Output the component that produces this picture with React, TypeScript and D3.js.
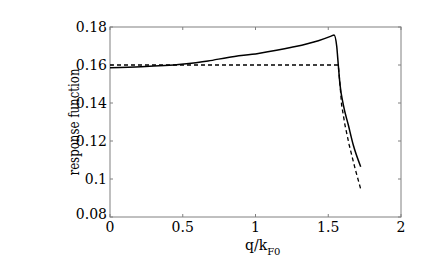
import * as React from 'react';
import * as d3 from 'd3';

const solidQ = [0, 0.215, 0.49, 0.674, 0.811, 1.019, 1.249, 1.432, 1.52, 1.54, 1.558, 1.569, 1.581, 1.604, 1.638, 1.672, 1.723];
const solidR = [0.1586, 0.1591, 0.1604, 0.1621, 0.164, 0.1661, 0.1693, 0.1728, 0.1752, 0.1758, 0.170, 0.16, 0.1495, 0.1389, 0.1284, 0.1179, 0.1065];
const dashQ = [0, 1.569, 1.581, 1.592, 1.615, 1.644, 1.684, 1.723];
const dashR = [0.16, 0.16, 0.1495, 0.1389, 0.1284, 0.1179, 0.1056, 0.0947];
const xTicks = [0, 0.5, 1, 1.5, 2];
const yTicks = [0.08, 0.1, 0.12, 0.14, 0.16, 0.18];

const W = 436;
const H = 267;
const m = { left: 110, top: 27, right: 401, bottom: 217 };

export default function App() {
  const x = d3.scaleLinear().domain([0, 2]).range([m.left, m.right]);
  const y = d3.scaleLinear().domain([0.08, 0.18]).range([m.bottom, m.top]);
  const mk = d3.line<[number, number]>().x(d => x(d[0])).y(d => y(d[1])).curve(d3.curveMonotoneX);
  const solid = mk(solidQ.map((q, i) => [q, solidR[i]] as [number, number]));
  const dashed = d3.line<[number, number]>().x(d => x(d[0])).y(d => y(d[1]))(dashQ.map((q, i) => [q, dashR[i]] as [number, number]));
  const axisCol = '#808080';
  const font = { fontFamily: "'DejaVu Serif', 'Liberation Serif', serif" };
  return (
    <svg width={W} height={H} style={{ position: 'absolute', left: 0, top: 0, background: '#fff' }}>
      <rect x={m.left} y={m.top} width={m.right - m.left} height={m.bottom - m.top} fill="none" stroke={axisCol} strokeWidth={1} />
      {xTicks.map(t => (
        <g key={'x' + t}>
          <line x1={x(t)} x2={x(t)} y1={m.bottom} y2={m.bottom - 3} stroke={axisCol} />
          <line x1={x(t)} x2={x(t)} y1={m.top} y2={m.top + 3} stroke={axisCol} />
          <text x={x(t)} y={232} textAnchor="middle" style={font} fontSize={14} fill="#000">{t}</text>
        </g>
      ))}
      {yTicks.map(t => (
        <g key={'y' + t}>
          <line x1={m.left} x2={m.left + 3} y1={y(t)} y2={y(t)} stroke={axisCol} />
          <line x1={m.right} x2={m.right - 3} y1={y(t)} y2={y(t)} stroke={axisCol} />
          <text x={107} y={t === 0.08 ? y(t) + 2 : y(t) + 5} textAnchor="end" style={font} fontSize={14} fill="#000">{t}</text>
        </g>
      ))}
      <path d={dashed || ''} fill="none" stroke="#000" strokeWidth={1.3} strokeDasharray="4,3" />
      <path d={solid || ''} fill="none" stroke="#000" strokeWidth={1.5} />
      <text transform={`translate(79,${(m.top + m.bottom) / 2}) rotate(-90)`} textAnchor="middle" style={font} fontSize={14} textLength={107} lengthAdjust="spacingAndGlyphs" fill="#000">response function</text>
      <text x={245} y={250} style={font} fontSize={14} fill="#000">q/k<tspan fontSize={10} dy={5}>F0</tspan></text>
    </svg>
  );
}
